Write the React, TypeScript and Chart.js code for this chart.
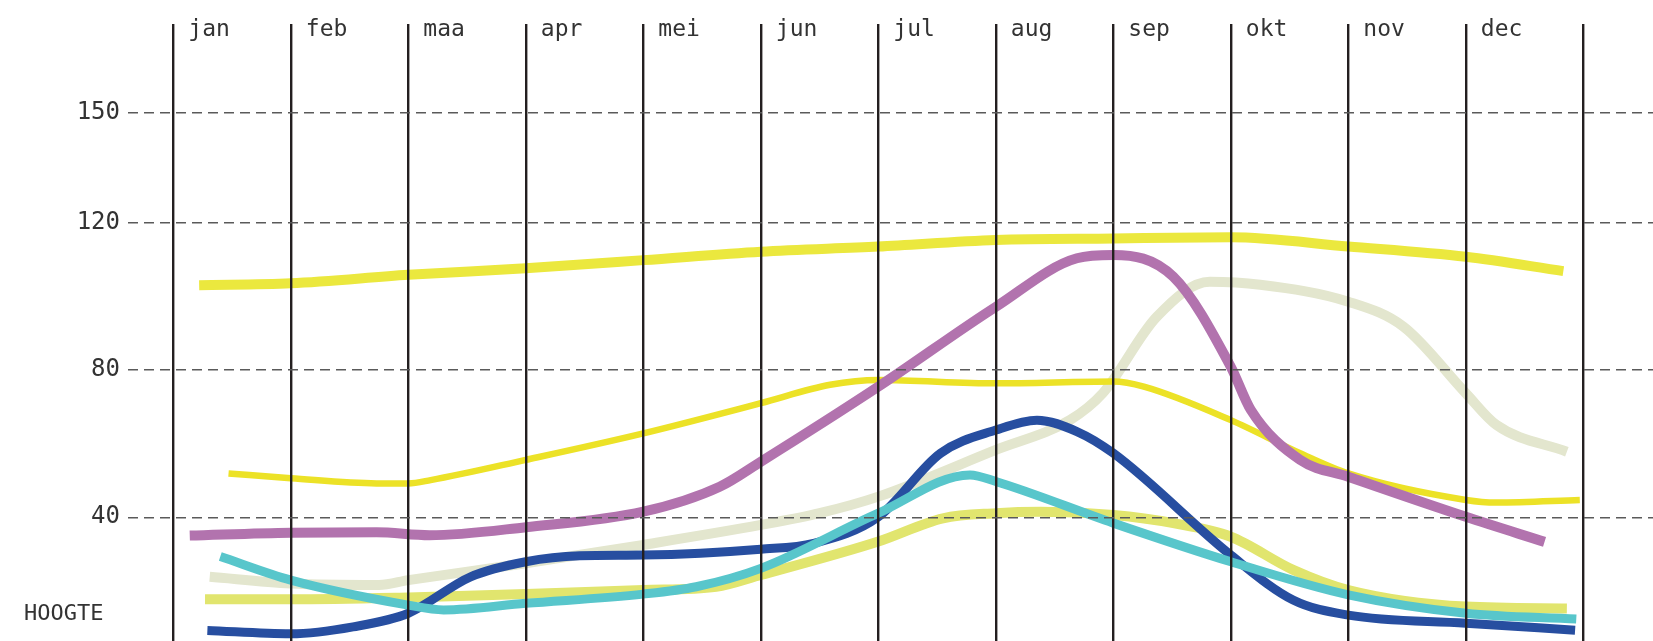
import React, { useEffect, useRef } from 'react';
import { Chart, registerables } from 'chart.js';

Chart.register(...registerables);

const W = 1653;
const H = 641;

const MONTHS = ['jan', 'feb', 'maa', 'apr', 'mei', 'jun', 'jul', 'aug', 'sep', 'okt', 'nov', 'dec'];
const MONTH_GRID = [0, 1, 2, 3, 4, 5, 6, 7, 8, 9, 10, 11, 12];
const Y_TICKS = [40, 80, 120, 150];
const Y_TITLE = 'HOOGTE';

// [month position, height]
const TOP_YELLOW: [number, number][] = [
  [0.22, 103.1], [1, 103.6], [2, 105.9], [3, 107.7], [4, 109.9], [5, 112.2], [6, 113.6],
  [7, 115.4], [8, 115.8], [9, 116.1], [10, 113.6], [11, 110.8], [11.83, 106.9],
];
const PURPLE: [number, number][] = [
  [0.14, 35.0], [1, 35.8], [1.73, 35.9], [2.18, 35.1], [3, 37.3], [4, 41.5], [4.65, 48.3],
  [5, 55.1], [6, 75.5], [7, 97.2], [7.69, 110.4], [8, 111.3], [8.51, 105.4], [9, 80.9],
  [9.17, 69.2], [9.59, 55.6], [10, 51.0], [11, 40.1], [11.67, 33.3],
];
const OLIVE: [number, number][] = [
  [0.31, 23.8], [1, 22.0], [1.75, 21.6], [2, 22.9], [3, 27.5], [4, 32.5], [5, 37.9],
  [5.5, 41.1], [6, 45.6], [7, 58.3], [7.63, 66.4], [7.91, 73.7], [8.37, 94.5], [8.82, 104.0],
  [9.25, 103.2], [10, 98.6], [10.47, 91.8], [11, 73.7], [11.26, 65.1], [11.86, 57.8],
];
const THIN_YELLOW: [number, number][] = [
  [0.47, 51.9], [1, 50.6], [1.73, 49.2], [2, 49.2], [2.19, 50.1], [3, 55.6], [4, 62.8],
  [5, 71.0], [5.59, 76.0], [6, 77.3], [7, 76.4], [8, 76.9], [8.26, 75.5], [9, 66.4],
  [9.59, 57.4], [10, 51.9], [11, 44.7], [11.26, 44.0], [11.97, 44.7],
];
const BLUE: [number, number][] = [
  [0.29, 9.2], [1, 8.3], [1.53, 10.2], [2, 13.9], [2.53, 23.8], [3, 27.9], [3.46, 29.5],
  [4, 29.7], [5, 31.3], [5.45, 32.9], [6, 40.1], [6.53, 57.4], [7, 63.7], [7.35, 66.4],
  [7.69, 63.3], [8, 57.4], [9, 29.7], [9.53, 17.5], [10, 13.4], [11, 11.2], [11.93, 9.3],
];
const CYAN: [number, number][] = [
  [0.4, 29.3], [1, 22.9], [2, 16.1], [2.3, 14.8], [3, 16.6], [4, 19.1], [4.45, 21.1],
  [5, 26.1], [6, 41.1], [6.78, 51.5], [7, 49.7], [8, 38.4], [9, 27.9], [10, 18.9],
  [11, 13.9], [11.94, 12.3],
];
const LIGHT_YELLOW: [number, number][] = [
  [0.27, 17.7], [1, 17.7], [2, 18.2], [3, 19.1], [4, 20.2], [4.62, 21.1], [5, 24.3],
  [6, 33.4], [6.55, 39.7], [7, 41.1], [7.38, 41.5], [8, 40.6], [8.51, 38.4], [9, 34.7],
  [9.53, 25.7], [10, 20.2], [11, 15.7], [11.86, 15.2],
];

const FONT = "'DejaVu Sans Mono', monospace";
const TEXT = '#333333';

const toXY = (arr: [number, number][]) => arr.map(([x, y]) => ({ x, y }));

const ds = (label: string, data: [number, number][], color: string, width: number) => ({
  label,
  data: toXY(data),
  borderColor: color,
  backgroundColor: color,
  borderWidth: width,
  pointRadius: 0,
  pointHoverRadius: 0,
  fill: false,
  cubicInterpolationMode: 'monotone' as const,
  borderCapStyle: 'butt' as const,
  borderJoinStyle: 'round' as const,
});

const titlePlugin = {
  id: 'hoogteTitle',
  afterDraw(chart: any) {
    const ctx = chart.ctx;
    ctx.save();
    ctx.font = `22px ${FONT}`;
    ctx.fillStyle = TEXT;
    ctx.textAlign = 'left';
    ctx.textBaseline = 'alphabetic';
    ctx.fillText(Y_TITLE, 24, 620);
    ctx.restore();
  },
};

export default function App() {
  const ref = useRef<HTMLCanvasElement>(null);

  useEffect(() => {
    const canvas = ref.current;
    if (!canvas) return;
    const chart = new Chart(canvas, {
      type: 'line',
      data: {
        datasets: [
          ds('cyan', CYAN, '#58c6cb', 9),
          ds('blauw', BLUE, '#274ea0', 9),
          ds('paars', PURPLE, '#b273ae', 10),
          ds('lichtgeel', LIGHT_YELLOW, '#e1e56e', 10),
          ds('geel', THIN_YELLOW, '#ece227', 6.5),
          ds('geel hoog', TOP_YELLOW, '#ebe83e', 10),
          ds('olijf', OLIVE, '#e3e6ce', 10),
        ],
      },
      options: {
        responsive: false,
        animation: false,
        maintainAspectRatio: false,
        layout: { padding: 0 },
        plugins: {
          legend: { display: false },
          tooltip: { enabled: false },
          title: { display: false },
        },
        events: [],
        scales: {
          x: {
            type: 'linear',
            position: 'top',
            min: -0.3855,
            max: 12.593,
            afterBuildTicks: (scale: any) => {
              scale.ticks = MONTH_GRID.map((v) => ({ value: v }));
            },
            afterFit: (scale: any) => {
              scale.height = 24;
              scale.paddingLeft = 0;
              scale.paddingRight = 0;
              scale.paddingTop = 0;
              scale.paddingBottom = 0;
            },
            grid: {
              color: '#231f20',
              lineWidth: 2.4,
              drawTicks: false,
              z: 1,
            },
            border: { display: false },
            ticks: {
              autoSkip: false,
              maxRotation: 0,
              minRotation: 0,
              mirror: true,
              align: 'start',
              labelOffset: 15,
              padding: -8,
              color: TEXT,
              font: { family: FONT, size: 23 },
              callback: (value: any) => MONTHS[Number(value)] ?? '',
            },
          },
          y: {
            type: 'linear',
            position: 'left',
            min: 6.35,
            max: 174.1,
            afterBuildTicks: (scale: any) => {
              scale.ticks = Y_TICKS.map((v) => ({ value: v }));
            },
            afterFit: (scale: any) => {
              scale.width = 128;
              scale.paddingTop = 0;
              scale.paddingBottom = 0;
              scale.paddingLeft = 0;
              scale.paddingRight = 0;
            },
            grid: {
              color: '#5a5a5a',
              lineWidth: 1.4,
              drawTicks: false,
              z: 1,
            },
            border: { display: false, dash: [10, 6] },
            ticks: {
              padding: 8,
              color: TEXT,
              font: { family: FONT, size: 24 },
              callback: (value: any) => String(value),
            },
          },
        },
      },
      plugins: [titlePlugin],
    });
    return () => chart.destroy();
  }, []);

  return (
    <div style={{ position: 'absolute', left: 0, top: 0, width: W, height: H, background: '#ffffff' }}>
      <canvas ref={ref} width={W} height={H} style={{ display: 'block', width: W, height: H }} />
    </div>
  );
}
